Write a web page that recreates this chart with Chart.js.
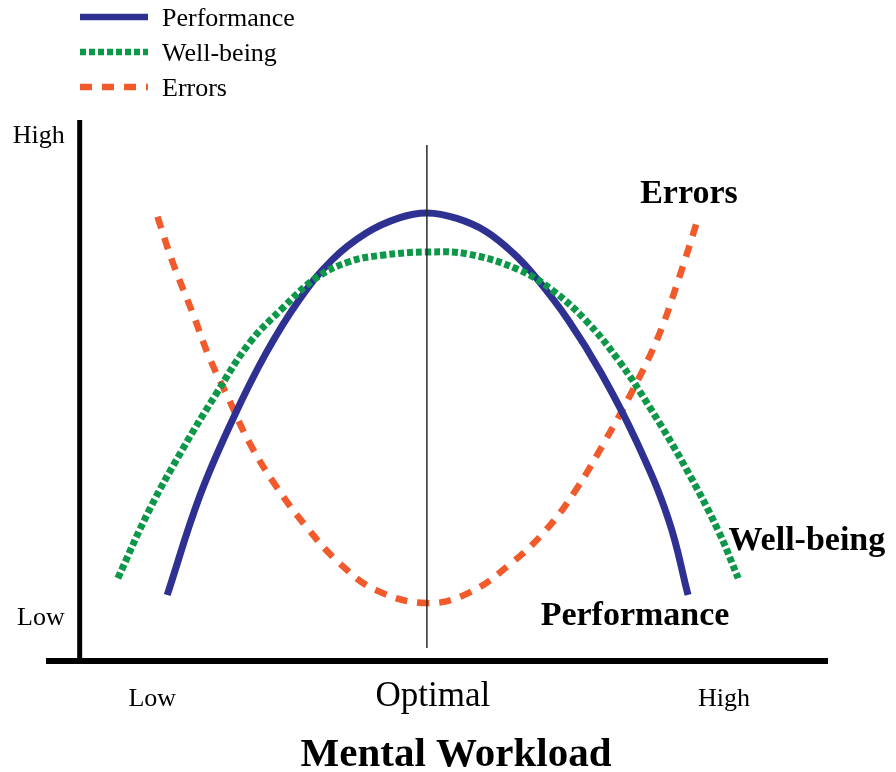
<!DOCTYPE html>
<html>
<head>
<meta charset="utf-8">
<script src="https://cdn.jsdelivr.net/npm/chart.js@4/dist/chart.umd.min.js"></script>
<style>
  html, body { margin: 0; padding: 0; background: #ffffff; }
  #wrap { width: 896px; height: 772px; position: relative; }
</style>
</head>
<body>
<div id="wrap"><canvas id="c" width="896" height="772"></canvas></div>
<script>
// ---- data (workload 0..100 on x, level 0..100 on y) ----
const seriesNames = ['Performance', 'Well-being', 'Errors'];

const performanceX = [11.7, 16.0, 20.4, 24.9, 29.3, 33.7, 38.3, 42.7, 46.4, 50.4, 54.3, 58.0, 60.9, 65.3, 69.7, 74.3, 78.7, 81.3];
const performanceY = [12.2, 30.3, 44.5, 56.9, 66.7, 74.1, 79.1, 81.9, 82.8, 81.8, 79.4, 75.3, 71.0, 63.0, 53.2, 40.9, 26.1, 12.2];

const wellbeingX = [5.1, 9.3, 13.7, 18.3, 22.7, 27.1, 31.6, 36.0, 40.4, 46.4, 52.0, 58.7, 63.1, 67.6, 72.0, 76.4, 80.9, 85.3, 88.0];
const wellbeingY = [15.3, 27.9, 39.0, 49.5, 58.8, 65.2, 70.8, 73.8, 75.0, 75.6, 75.2, 72.3, 68.6, 63.0, 55.6, 46.4, 35.9, 24.2, 15.3];

const errorsX = [10.4, 12.4, 15.1, 17.3, 20.0, 22.7, 26.3, 30.3, 34.7, 39.6, 46.4, 52.0, 57.7, 62.3, 66.3, 70.3, 73.7, 77.3, 80.0, 82.7];
const errorsY = [82.1, 73.8, 64.3, 56.2, 48.2, 40.3, 32.2, 24.8, 18.1, 13.1, 10.7, 12.6, 18.1, 24.2, 31.6, 40.9, 49.5, 59.9, 70.4, 82.1];

const optimalX = 46.4;
const optimalLineY = [2.4, 95.4];

const xTickValues = [9.7, 47.2, 86.1];
const xTickLabels = ['Low', 'Optimal', 'High'];
const yTickValues = [6.7, 95.7];
const yTickLabels = ['Low', 'High'];

const curveLabelText = ['Performance', 'Well-being', 'Errors'];
const curveLabelX = [61.6, 86.7, 74.9];
const curveLabelY = [6.65, 20.5, 84.7];

const axisTitle = 'Mental Workload';

// ---- helpers ----
function pts(xs, ys) { return xs.map((x, i) => ({ x: x, y: ys[i] })); }
const SERIF = '"Liberation Serif", "Times New Roman", serif';

const colors = ['#2e3192', '#0d9748', '#f15a2b'];

const datasets = [
  {
    label: seriesNames[0], data: pts(performanceX, performanceY),
    borderColor: colors[0], borderWidth: 7, borderDash: [], order: 1,
    borderCapStyle: 'butt'
  },
  {
    label: seriesNames[1], data: pts(wellbeingX, wellbeingY),
    borderColor: colors[1], borderWidth: 7, borderDash: [6, 3], order: 0,
    borderCapStyle: 'butt'
  },
  {
    label: seriesNames[2], data: pts(errorsX, errorsY),
    borderColor: colors[2], borderWidth: 6.5, borderDash: [12, 10], order: 2,
    borderCapStyle: 'butt'
  }
];

const decorPlugin = {
  id: 'decor',
  afterDatasetsDraw(chart) {
    const ctx = chart.ctx, xs = chart.scales.x, ys = chart.scales.y;
    ctx.save();
    ctx.strokeStyle = '#2a2a2a';
    ctx.lineWidth = 1.5;
    ctx.beginPath();
    const vx = xs.getPixelForValue(optimalX);
    ctx.moveTo(vx, ys.getPixelForValue(optimalLineY[1]));
    ctx.lineTo(vx, ys.getPixelForValue(optimalLineY[0]));
    ctx.stroke();
    ctx.restore();
  },
  afterDraw(chart) {
    const ctx = chart.ctx, xs = chart.scales.x, ys = chart.scales.y;
    const ca = chart.chartArea;
    ctx.save();
    ctx.strokeStyle = '#000';
    ctx.lineCap = 'butt';
    const y0 = ys.getPixelForValue(0);
    const x0 = xs.getPixelForValue(0);
    ctx.lineWidth = 5;
    ctx.beginPath();
    ctx.moveTo(x0, ys.getPixelForValue(100));
    ctx.lineTo(x0, y0);
    ctx.stroke();
    ctx.lineWidth = 6;
    ctx.beginPath();
    ctx.moveTo(ca.left, y0);
    ctx.lineTo(ca.right, y0);
    ctx.stroke();

    ctx.fillStyle = '#000';
    ctx.font = '26px ' + SERIF;
    ctx.textAlign = 'right';
    ctx.textBaseline = 'alphabetic';
    yTickValues.forEach((v, i) => {
      ctx.fillText(yTickLabels[i], x0 - 15, ys.getPixelForValue(v));
    });
    ctx.textAlign = 'center';
    xTickValues.forEach((v, i) => {
      ctx.font = (xTickLabels[i] === 'Optimal' ? '35px ' : '26px ') + SERIF;
      ctx.fillText(xTickLabels[i], xs.getPixelForValue(v), y0 + 45);
    });
    ctx.font = 'bold 41px ' + SERIF;
    ctx.fillText(axisTitle, 456, 766);

    ctx.font = 'bold 34px ' + SERIF;
    ctx.textAlign = 'left';
    curveLabelText.forEach((t, i) => {
      ctx.fillText(t, xs.getPixelForValue(curveLabelX[i]), ys.getPixelForValue(curveLabelY[i]));
    });

    const legY = [17, 52, 87];
    chart.data.datasets.forEach((ds, i) => {
      ctx.save();
      ctx.strokeStyle = ds.borderColor;
      ctx.lineWidth = 6.5;
      ctx.lineCap = 'butt';
      ctx.setLineDash(ds.borderDash || []);
      ctx.beginPath();
      ctx.moveTo(80, legY[i]);
      ctx.lineTo(148, legY[i]);
      ctx.stroke();
      ctx.restore();
      ctx.font = '26px ' + SERIF;
      ctx.textAlign = 'left';
      ctx.fillStyle = '#000';
      ctx.fillText(ds.label, 162, legY[i] + 9);
    });
    ctx.restore();
  }
};

new Chart(document.getElementById('c'), {
  type: 'line',
  data: { datasets: datasets },
  options: {
    responsive: false,
    animation: false,
    devicePixelRatio: 1,
    layout: { padding: { left: 46, right: 68, top: 120, bottom: 111 } },
    elements: {
      point: { radius: 0, hoverRadius: 0 },
      line: { tension: 0.4, fill: false }
    },
    datasets: { line: { clip: false } },
    scales: {
      x: { type: 'linear', min: -4.5, max: 100, display: false },
      y: { type: 'linear', min: 0, max: 100, display: false }
    },
    plugins: {
      legend: { display: false },
      tooltip: { enabled: false }
    }
  },
  plugins: [decorPlugin]
});
</script>
</body>
</html>
